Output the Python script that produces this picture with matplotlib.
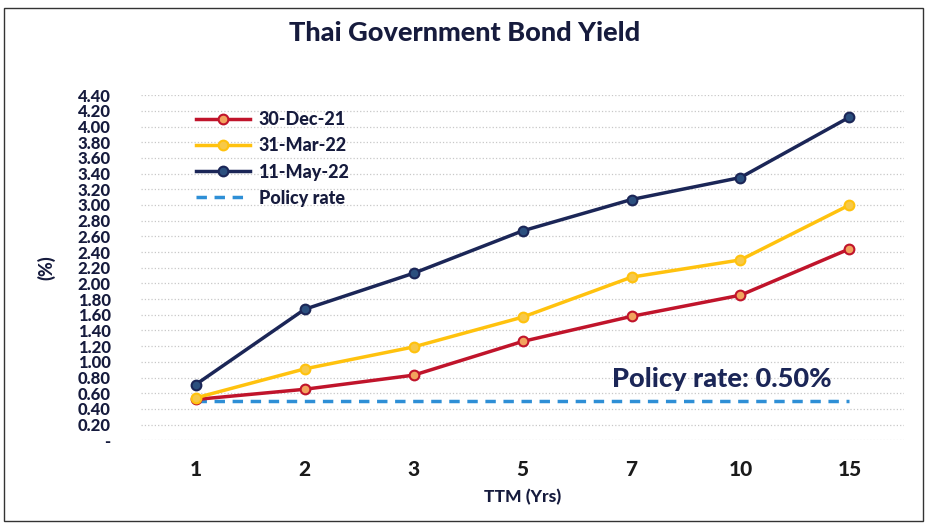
import matplotlib.pyplot as plt
import matplotlib.patches as patches

plt.rcParams['font.family'] = ['Lato', 'DejaVu Sans']

ttm = ['1', '2', '3', '5', '7', '10', '15']
dec21 = [0.52, 0.65, 0.83, 1.26, 1.58, 1.85, 2.44]
mar22 = [0.54, 0.91, 1.19, 1.57, 2.08, 2.30, 3.00]
may22 = [0.71, 1.67, 2.13, 2.67, 3.07, 3.35, 4.12]
policy = [0.50, 0.50, 0.50, 0.50, 0.50, 0.50, 0.50]
yticks = [0.0, 0.2, 0.4, 0.6, 0.8, 1.0, 1.2, 1.4, 1.6, 1.8, 2.0, 2.2,
          2.4, 2.6, 2.8, 3.0, 3.2, 3.4, 3.6, 3.8, 4.0, 4.2, 4.4]

fig = plt.figure(figsize=(9.29, 5.26), dpi=100)
ax = fig.add_axes([0.152, 0.163, 0.821, 0.656])

x = range(len(ttm))
ax.plot(x, dec21, color='#C0142B', lw=2.5, marker='o', ms=7,
        mfc='#F2A35E', mec='#C0142B', mew=1.5, label='30-Dec-21', zorder=3)
ax.plot(x, mar22, color='#FFC20E', lw=2.5, marker='o', ms=7,
        mfc='#F7C948', mec='#FFC20E', mew=1.5, label='31-Mar-22', zorder=3)
ax.plot(x, may22, color='#1B2657', lw=2.5, marker='o', ms=7,
        mfc='#2B4F7E', mec='#1B2657', mew=1.5, label='11-May-22', zorder=3)
ax.plot(x, policy, color='#2E8FD6', lw=2.5, ls=(0, (3, 2.2)),
        label='Policy rate', zorder=2)

ax.set_xlim(-0.5, 6.5)
ax.set_ylim(0, 4.4)
ax.set_xticks(list(x))
ax.set_xticklabels(ttm, fontsize=15, fontweight='black', color='#1a1a1a')
ax.set_yticks(yticks)
ax.set_yticklabels(['-'] + ['%.2f' % v for v in yticks[1:]],
                   fontsize=12, fontweight='black', color='#161b3d')
ax.tick_params(axis='both', length=0)
ax.tick_params(axis='y', pad=22)
ax.tick_params(axis='x', pad=14)
ax.grid(axis='y', color='#c8c8c8', ls=':', lw=0.9)
for s in ax.spines.values():
    s.set_visible(False)

ax.set_xlabel('TTM (Yrs)', fontsize=12.5, fontweight='black', color='#161b3d', labelpad=7)
ax.set_ylabel('(%)', fontsize=13, fontweight='black', color='#161b3d', labelpad=16)
fig.suptitle('Thai Government Bond Yield', fontsize=19.5, fontweight='black',
             color='#161b3d', y=0.96)

ax.text(4.83, 0.78, 'Policy rate: 0.50%', fontsize=19.5, fontweight='black',
        color='#1B2657', ha='center', va='center')

leg = ax.legend(loc='upper left', bbox_to_anchor=(0.05, 1.0), frameon=False,
                handlelength=3.0, handletextpad=0.5, labelspacing=0.5,
                prop={'weight': 'black', 'size': 13})
for t in leg.get_texts():
    t.set_color('#161b3d')

fig.patches.append(patches.Rectangle((0.004, 0.01), 0.99, 0.975, transform=fig.transFigure,
                                     fill=False, ec='#333333', lw=1))

fig.savefig('out.png', dpi=100)
